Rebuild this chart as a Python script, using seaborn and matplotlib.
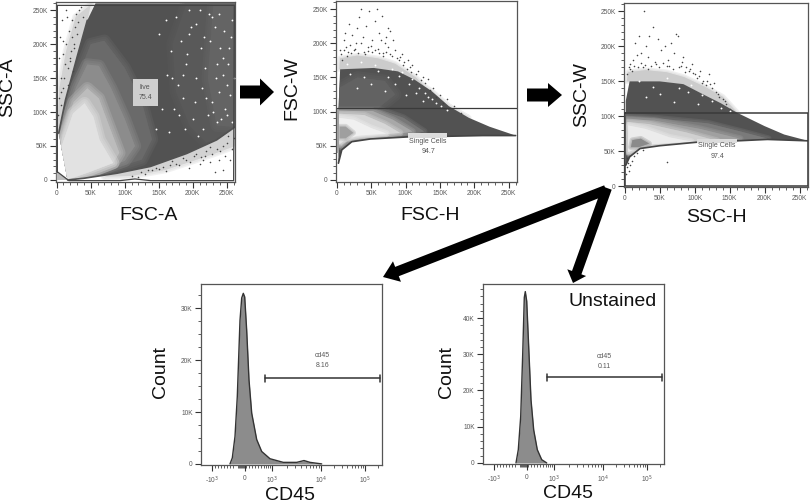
import matplotlib
matplotlib.use("Agg")
import matplotlib.pyplot as plt
import seaborn as sns
from matplotlib.patches import FancyArrow

sns.set_style("white")
plt.rcParams["font.family"] = ["Liberation Sans", "DejaVu Sans"]

W, H = 810, 504
DARK = "#525252"
FRAME = "#555555"
TICKTXT = "#5a5a5a"

# scatter panel ticks (in K)
scatter_ticks = [0, 50, 100, 150, 200, 250]
scatter_labels = ["0", "50K", "100K", "150K", "200K", "250K"]
scatter_minor = [10, 20, 30, 40, 60, 70, 80, 90, 110, 120, 130, 140, 160, 170, 180, 190, 210, 220, 230, 240, 260]

# SSC-A / FSC-A density outlines
a_outer_x = [16, 40, 89, 138, 191, 235, 262, 262, 57, 45, 30, 13, 3]
a_outer_y = [0, 2.5, 10, 20, 39, 59, 78, 260, 260, 235, 181, 118, 69]
a_l1_x = [3, 12, 30, 50, 70, 100, 125, 140, 125, 60, 16]
a_l1_y = [25, 90, 150, 200, 205, 165, 115, 60, 30, 9, 0]
a_l2_x = [3, 10, 28, 45, 62, 80, 100, 115, 100, 50, 15]
a_l2_y = [15, 80, 135, 170, 168, 135, 90, 50, 28, 10, 0]
a_l3_x = [3, 8, 25, 45, 62, 75, 92, 83, 50, 15]
a_l3_y = [10, 65, 115, 135, 120, 85, 40, 25, 12, 0]
a_l4_x = [5, 7, 24, 41, 54, 63, 83, 49, 15]
a_l4_y = [10, 49, 98, 113, 93, 59, 25, 12, 0]
a_corner_x = [0, 0, 18]
a_corner_y = [0, 12, 0]
a_fringe1_x = [1, 4, 14, 28, 50, 45, 30, 13, 3]
a_fringe1_y = [78, 135, 190, 240, 258, 235, 181, 118, 69]
a_fringe2_x = [262, 235, 191, 138, 89, 70, 110, 160, 200, 235, 262]
a_fringe2_y = [78, 59, 39, 20, 10, 5, 6, 15, 28, 40, 50]
a_white1_x = [262, 190, 170, 175, 195, 220, 235, 262]
a_white1_y = [258, 258, 200, 130, 80, 55, 59, 78]
a_white2_x = [262, 230, 222, 235, 262]
a_white2_y = [258, 258, 150, 80, 78]
a_gate_x = [1, 18, 93, 115, 138, 260, 261, 1, 1]
a_gate_y = [12, -1, -1, 1.5, -1, -1, 257, 257, 12]
a_dots_x = [3, 5, 8, 10, 12, 6, 15, 18, 22, 25, 9, 13, 28, 33, 20, 16, 4, 30, 24, 38, 7, 11, 14, 19, 23, 27, 31, 36,
            2, 6, 10, 17, 21, 26,
            250, 240, 255, 225, 215, 205, 190, 180, 170, 150, 130, 120, 245, 258, 232, 160, 140, 110, 195, 210,
            252, 244, 236, 228, 220, 212, 202, 196, 186, 176, 166, 156, 146, 134, 124, 260, 248, 238, 226, 218]
a_dots_y = [180, 210, 235, 205, 170, 150, 240, 220, 235, 195, 185, 250, 245, 250, 180, 140, 120, 215, 160, 240,
            130, 150, 200, 175, 210, 225, 232, 255, 95, 110, 135, 165, 190, 200,
            55, 42, 30, 48, 30, 38, 30, 22, 28, 16, 9, 5, 15, 45, 12, 13, 14, 6, 18, 24,
            65, 50, 45, 38, 42, 34, 36, 26, 33, 24, 22, 19, 18, 14, 12, 62, 35, 30, 27, 35]
a_spots_x = [175, 182, 190, 198, 205, 212, 220, 228, 235, 242, 250, 256, 170, 186, 200, 215, 226, 238, 248, 258, 210, 195, 230, 245, 180,
             150, 160, 168, 178, 192, 204, 218, 232, 240, 252, 258, 222, 234, 246, 254, 162, 172, 188, 208, 214, 228, 236, 244, 250, 260,
             146, 155, 165, 185, 203, 217, 239, 253, 194, 224]
a_spots_y = [240, 205, 170, 225, 150, 195, 120, 240, 170, 90, 140, 210, 150, 120, 90, 75, 205, 130, 105, 85, 250, 250, 100, 180, 95,
             215, 235, 190, 140, 185, 230, 165, 225, 195, 170, 235, 95, 150, 220, 125, 155, 105, 75, 65, 135, 115, 85, 155, 95, 150,
             75, 105, 70, 155, 115, 210, 245, 195, 215, 245]

# FSC-W / FSC-H
b_outer_x = [2.5, 7.4, 22, 49, 103, 163, 212, 260, 222, 192, 163, 138, 113, 89, 54, 5, 2.5]
b_outer_y = [24.5, 44, 56, 60, 63, 64, 65, 65, 78, 91, 108, 130, 147, 159, 164, 162, 100]
b_up_x = [4, 60, 85, 70, 30, 4]
b_up_y = [105, 105, 125, 145, 150, 135]
b_l1_x = [2.5, 63, 97, 127, 97, 48, 23, 8]
b_l1_y = [103, 103, 91, 71, 64, 61, 58, 47]
b_l2_x = [3.4, 52, 82, 110, 76, 38, 18, 6]
b_l2_y = [101, 101, 88, 71, 65, 62, 59, 49]
b_l3_x = [3.4, 40, 70, 92, 53, 28, 13, 4]
b_l3_y = [97, 95, 82, 69, 65, 63, 60, 52]
b_l4_x = [3.4, 25, 50, 72, 33, 13, 4]
b_l4_y = [91, 88, 76, 68, 65, 61, 56]
b_core_x = [4.4, 13, 24, 13, 4.4]
b_core_y = [78, 78, 69, 61, 61]
b_strip_x = [0, 3, 3, 0]
b_strip_y = [105, 105, 40, 40]
b_fringe_x = [4, 5, 30, 60, 85, 115, 145, 175, 192, 163, 138, 113, 89, 54]
b_fringe_y = [162, 178, 182, 178, 170, 150, 120, 100, 91, 108, 130, 147, 159, 164]
b_dots_x = [5, 10, 14, 18, 22, 28, 33, 35, 38, 42, 47, 52, 58, 62, 66, 70, 74, 78, 25, 30,
            45, 55, 65, 75, 85, 92, 98, 104, 110, 118, 125, 132, 140, 150, 160, 170, 180, 15, 20, 12,
            40, 50, 60, 72, 82, 95, 106, 115, 8, 36, 68, 88,
            6, 11, 16, 21, 26, 31, 41, 46, 51, 56, 61, 67, 71, 77, 81, 90, 96, 102, 108, 122, 128, 135, 144, 155]
b_dots_y = [190, 205, 195, 228, 212, 200, 238, 250, 210, 225, 248, 205, 250, 215, 240, 200, 222, 218, 190, 222,
            195, 232, 205, 195, 190, 180, 172, 175, 168, 160, 150, 148, 135, 125, 118, 108, 98, 182, 198, 215,
            188, 196, 192, 210, 205, 185, 165, 155, 175, 200, 186, 178,
            185, 190, 188, 186, 192, 186, 184, 189, 188, 190, 186, 182, 188, 184, 182, 175, 168, 163, 158, 146, 142, 132, 122, 112]
b_spots_x = [20, 40, 60, 75, 90, 105, 120, 132, 145, 30, 50, 70, 85, 100, 115, 125, 15, 35, 55, 80, 95, 110, 128, 138, 152, 160]
b_spots_y = [155, 150, 160, 150, 152, 140, 135, 122, 112, 135, 140, 130, 140, 125, 128, 115, 170, 172, 168, 162, 158, 148, 128, 118, 108, 102]
b_gate_x = [0, 262]
b_gate_y = [105, 105]
b_box_x = [104, 161, 161, 104]
b_box_y = [69, 69, 62, 62]

# SSC-W / SSC-H
c_outer_x = [1.5, 7, 22, 50, 103, 161, 204, 262, 228, 200, 161, 137, 113, 84, 50, 7, 1.5]
c_outer_y = [30, 42, 54, 58, 63, 65, 67, 65, 74, 86, 105, 119, 131, 146, 150, 150, 122]
c_l1_x = [2.4, 47, 119, 167, 205, 143, 71, 32, 8]
c_l1_y = [100, 97, 90, 78, 68, 65, 61, 56, 44]
c_l2_x = [3.4, 42, 108, 165, 95, 61, 27, 6]
c_l2_y = [96, 94, 82, 68, 64, 61, 56, 47]
c_l3_x = [4, 34, 88, 132, 61, 32, 6]
c_l3_y = [92, 89, 77, 65, 62, 59, 49]
c_l4_x = [5, 30, 64, 95, 37, 11, 5]
c_l4_y = [87, 82, 70, 64, 60, 52, 49]
c_core_x = [11, 23, 35, 20, 9]
c_core_y = [66, 68, 61, 56, 56]
c_fringe_x = [3, 5, 30, 60, 85, 115, 140, 161, 137, 113, 84, 50]
c_fringe_y = [150, 163, 166, 163, 156, 142, 128, 105, 119, 131, 146, 150]
c_dots_x = [4, 8, 12, 15, 20, 24, 27, 30, 35, 40, 45, 52, 58, 62, 70, 73, 76, 80, 84, 88,
            92, 96, 100, 104, 108, 112, 116, 120, 125, 130, 135, 140, 145, 150, 26, 60, 18, 10,
            34, 48, 66, 82, 94, 110, 6, 128,
            7, 13, 19, 23, 29, 33, 38, 43, 49, 55, 64, 69, 77, 86, 98, 106, 118, 122, 133, 143]
c_dots_y = [160, 175, 180, 205, 215, 190, 250, 200, 215, 228, 175, 195, 200, 180, 190, 218, 215, 172, 185, 170,
            165, 175, 160, 155, 165, 150, 145, 160, 140, 135, 128, 125, 118, 110, 170, 172, 188, 165,
            185, 210, 205, 178, 168, 148, 170, 148,
            168, 172, 170, 176, 174, 168, 172, 178, 170, 176, 172, 168, 170, 164, 162, 158, 150, 146, 132, 122]
c_low_x = [3, 6, 10, 5, 60, 14, 2, 8, 18, 26, 4]
c_low_y = [28, 22, 36, 34, 35, 44, 18, 30, 48, 52, 40]
c_spots_x = [20, 40, 60, 78, 95, 110, 125, 138, 30, 50, 70, 90, 105, 150]
c_spots_y = [150, 142, 155, 140, 145, 130, 122, 112, 128, 132, 120, 135, 118, 107]
c_gate_x = [0, 262, 262, 0, 0]
c_gate_y = [105, 105, 0, 0, 105]
c_box_x = [103, 160, 160, 103]
c_box_y = [68, 68, 62, 62]

# histograms: x is biexponential channel, 0 sits at the CD45 = 0 tick
hist_ticks = [-33, 0, 27, 76, 120]
hist_labels = ["-10$^{3}$", "0", "10$^{3}$", "10$^{4}$", "10$^{5}$"]
hist_minor = [-30, -27, -24, -21, -18, -15, -12, -7, -6, -5, -4, -3, -2, -1, 1, 4, 7, 10, 13, 16, 19, 21, 23, 25,
              42, 50, 56, 61, 65, 68, 71, 74, 89, 97, 102, 107, 110, 113, 116, 118, 133]

stained_x = [-15, -12.7, -10, -7.7, -5, -3.3, -1.7, -0.3, 1.7, 4, 6.7, 11.7, 16.7, 25, 38.3, 51.7, 59, 65, 76.7]
stained_y = [0, 1.15, 5.3, 13, 27.7, 32, 32.9, 32.2, 25.7, 16.2, 9.8, 4.7, 2.4, 1, 0.3, 0.3, 0.65, 0.3, 0]
unstained_x = [-11, -8.7, -6.3, -4.3, -2.7, -1.7, -0.3, 1.7, 4, 6.7, 10.3, 14.7, 19.7]
unstained_y = [0, 3.65, 12.8, 30, 45.7, 47.3, 44.7, 32, 17.4, 9.1, 3.65, 0.9, 0]


def add_panel(left, top, right, bottom):
    return fig.add_axes([left / W, 1 - bottom / H, (right - left) / W, (bottom - top) / H])


def style(ax):
    for s in ax.spines.values():
        s.set_color(FRAME)
        s.set_linewidth(0.9)
    ax.tick_params(which="major", length=4, width=0.8, color="#333333", labelsize=4.8,
                   labelcolor=TICKTXT, pad=2, left=True, bottom=True)
    ax.tick_params(which="minor", length=2, width=0.6, color="#444444", left=True, bottom=True)


def scatter_axes(ax, ymin):
    ax.set_xlim(-1, 262)
    ax.set_ylim(ymin, 262)
    ax.set_xticks(scatter_ticks, scatter_labels)
    ax.set_yticks(scatter_ticks, scatter_labels)
    ax.set_xticks(scatter_minor, minor=True)
    ax.set_yticks(scatter_minor, minor=True)
    ax.set(xlabel="", ylabel="")
    style(ax)


# density level with a feathered edge, clipped to the population outline if given
def soft(ax, x, y, col, z=3, spread=(9, 6, 3), clip=None):
    parts = []
    for w in spread:
        parts += ax.fill(x, y, facecolor=col, edgecolor=col, linewidth=w, alpha=0.3, joinstyle="round", zorder=z)
    parts += ax.fill(x, y, color=col, lw=0, zorder=z)
    if clip is not None:
        for p in parts:
            p.set_clip_path(clip)


def dots(ax, x, y, color, size=1.3):
    sns.scatterplot(x=x, y=y, ax=ax, color=color, s=size, linewidth=0, zorder=7, legend=False)


def hist_panel(ax, xs, ys, ymax, ymajor, ylabels, yminor, gate_y, text_y):
    sns.lineplot(x=xs, y=ys, ax=ax, color="#333333", linewidth=1, sort=False, zorder=3)
    ax.fill_between(xs, ys, 0, color="#8c8c8c", zorder=2, linewidth=0)
    sns.lineplot(x=[20, 135.3], y=[gate_y, gate_y], ax=ax, color="#333333", linewidth=1.1)
    ax.plot([20, 20], [gate_y - ymax * 0.018, gate_y + ymax * 0.018], color="#333333", lw=1.1)
    ax.plot([135.3, 135.3], [gate_y - ymax * 0.018, gate_y + ymax * 0.018], color="#333333", lw=1.1)
    ax.set_xlim(-44, 137)
    ax.set_ylim(-ymax * 0.006, ymax)
    ax.set_xticks(hist_ticks, hist_labels)
    ax.set_xticks(hist_minor, minor=True)
    ax.set_yticks(ymajor, ylabels)
    ax.set_yticks(yminor, minor=True)
    ax.set(xlabel="", ylabel="")
    style(ax)
    ax.tick_params(axis="x", which="major", pad=3)
    ax.text(77.5, text_y, "cd45", fontsize=5, color=TICKTXT, ha="center", va="center")


fig = plt.figure(figsize=(W / 100, H / 100), dpi=100, facecolor="white")

# --- top left
ax1 = add_panel(56, 2, 235, 182)
soft(ax1, a_fringe1_x, a_fringe1_y, "#d2d2d2", 1, (5, 3))
soft(ax1, a_fringe2_x, a_fringe2_y, "#d2d2d2", 1, (5, 3))
outer1 = ax1.fill(a_outer_x, a_outer_y, color=DARK, lw=0, zorder=2)[0]
soft(ax1, a_white1_x, a_white1_y, "#595959", 2, clip=outer1)
soft(ax1, a_white2_x, a_white2_y, "#646464", 2, clip=outer1)
for lx, ly, col in [(a_l1_x, a_l1_y, "#6a6a6a"), (a_l2_x, a_l2_y, "#8c8c8c"),
                    (a_l3_x, a_l3_y, "#bcbcbc"), (a_l4_x, a_l4_y, "#e2e2e2")]:
    soft(ax1, lx, ly, col, clip=outer1)
sns.lineplot(x=a_outer_x[:7], y=a_outer_y[:7], ax=ax1, color=DARK, linewidth=1.2, sort=False, zorder=4)
sns.lineplot(x=a_outer_x[9:], y=a_outer_y[9:], ax=ax1, color=DARK, linewidth=1.2, sort=False, zorder=4)
ax1.fill(a_corner_x, a_corner_y, color="#bbbbbb", lw=0, zorder=5)
dots(ax1, a_dots_x, a_dots_y, "#444444")
dots(ax1, a_spots_x, a_spots_y, "white", 1.8)
ax1.plot(a_gate_x, a_gate_y, color="#444444", lw=0.9, zorder=8)
ax1.text(130, 129, "live\n75.4", fontsize=5, color="#555555", ha="center", va="center", linespacing=1.5,
         bbox=dict(boxstyle="square,pad=0.8", fc="#cfcfcf", ec="none"), zorder=9)
scatter_axes(ax1, -3)

# --- top middle
ax2 = add_panel(336, 1, 517, 182)
soft(ax2, b_fringe_x, b_fringe_y, "#cccccc", 1, (4, 2))
outer2 = ax2.fill(b_outer_x, b_outer_y, color=DARK, lw=0, zorder=2)[0]
soft(ax2, b_up_x, b_up_y, "#626262", 2, clip=outer2)
for lx, ly, col in [(b_l1_x, b_l1_y, "#777777"), (b_l2_x, b_l2_y, "#a8a8a8"),
                    (b_l3_x, b_l3_y, "#d6d6d6"), (b_l4_x, b_l4_y, "#f0f0f0")]:
    soft(ax2, lx, ly, col, spread=(5, 3), clip=outer2)
soft(ax2, b_core_x, b_core_y, "#9f9f9f", 4, (4, 2), clip=outer2)
sns.lineplot(x=b_outer_x[:8], y=b_outer_y[:8], ax=ax2, color="#444444", linewidth=1.2, sort=False, zorder=5)
ax2.fill(b_strip_x, b_strip_y, color="#a0a0a0", lw=0, zorder=5)
dots(ax2, b_dots_x, b_dots_y, "#444444")
dots(ax2, b_spots_x, b_spots_y, "white", 1.8)
ax2.plot(b_gate_x, b_gate_y, color="#3a3a3a", lw=0.9, zorder=8)
ax2.fill(b_box_x, b_box_y, color="#dcdcdc", lw=0, zorder=8)
ax2.text(133, 56, "Single Cells", fontsize=5, color="#555555", ha="center", va="center", zorder=9)
ax2.text(133, 42, "94.7", fontsize=5, color="#555555", ha="center", va="center", zorder=9)
scatter_axes(ax2, -3)

# --- top right
ax3 = add_panel(624, 3, 808, 187)
soft(ax3, c_fringe_x, c_fringe_y, "#cccccc", 1, (4, 2))
outer3 = ax3.fill(c_outer_x, c_outer_y, color=DARK, lw=0, zorder=2)[0]
for lx, ly, col in [(c_l1_x, c_l1_y, "#7a7a7a"), (c_l2_x, c_l2_y, "#a0a0a0"),
                    (c_l3_x, c_l3_y, "#d0d0d0"), (c_l4_x, c_l4_y, "#ececec")]:
    soft(ax3, lx, ly, col, spread=(5, 3), clip=outer3)
soft(ax3, c_core_x, c_core_y, "#8a8a8a", 4, (4, 2), clip=outer3)
sns.lineplot(x=c_outer_x[:8], y=c_outer_y[:8], ax=ax3, color="#444444", linewidth=1.2, sort=False, zorder=5)
dots(ax3, c_dots_x, c_dots_y, "#444444")
dots(ax3, c_low_x, c_low_y, "#444444")
dots(ax3, c_spots_x, c_spots_y, "white", 1.8)
ax3.plot(c_gate_x, c_gate_y, color="#3a3a3a", lw=1.1, zorder=8)
ax3.fill(c_box_x, c_box_y, color="#dcdcdc", lw=0, zorder=8)
ax3.text(132, 58, "Single Cells", fontsize=5, color="#555555", ha="center", va="center", zorder=9)
ax3.text(132, 43, "97.4", fontsize=5, color="#555555", ha="center", va="center", zorder=9)
scatter_axes(ax3, -1)

# --- histograms
ax4 = add_panel(201, 284, 382, 465)
hist_panel(ax4, stained_x, stained_y, 34.7, [0, 10, 20, 30], ["0", "10K", "20K", "30K"],
           [2.5, 5, 7.5, 12.5, 15, 17.5, 22.5, 25, 27.5, 32.5], 16.5, 21)
ax4.text(77.5, 19, "8.16", fontsize=5, color=TICKTXT, ha="center", va="center")

ax5 = add_panel(483, 284, 664, 464)
hist_panel(ax5, unstained_x, unstained_y, 49.4, [0, 10, 20, 30, 40], ["0", "10K", "20K", "30K", "40K"],
           [2, 4, 6, 8, 12, 14, 16, 18, 22, 24, 26, 28, 32, 34, 36, 38, 42, 44, 46, 48], 23.6, 29.5)
ax5.text(77.5, 26.5, "0.11", fontsize=5, color=TICKTXT, ha="center", va="center")

# --- overlay for arrows and large labels, in pixels
over = fig.add_axes([0, 0, 1, 1], zorder=10)
over.set_xlim(0, W)
over.set_ylim(H, 0)
over.axis("off")
over.patch.set_alpha(0)

arrow_style = dict(length_includes_head=True, color="black", linewidth=0)
over.add_patch(FancyArrow(240, 92, 34, 0, width=13, head_width=27, head_length=14, **arrow_style))
over.add_patch(FancyArrow(527, 95, 35, 0, width=13, head_width=24, head_length=14, **arrow_style))
over.add_patch(FancyArrow(606, 190, -223, 87, width=10, head_width=22, head_length=15, **arrow_style))
over.add_patch(FancyArrow(607, 188, -34, 95, width=10, head_width=20, head_length=11, **arrow_style))

big = dict(fontsize=14, color="#111111", ha="center", va="center")
over.text(149, 216, "FSC-A", **big)
over.text(430, 216, "FSC-H", **big)
over.text(716, 217, "SSC-H", **big)
over.text(8, 87, "SSC-A", rotation=90, **big)
over.text(292, 88, "FSC-W", rotation=90, **big)
over.text(582, 95, "SSC-W", rotation=90, **big)
over.text(160, 372, "Count", rotation=90, **big)
over.text(447, 372, "Count", rotation=90, **big)
over.text(290, 496, "CD45", **big)
over.text(568, 493, "CD45", **big)
over.text(613, 301, "Unstained", **big)

fig.savefig("out.png", dpi=100)
